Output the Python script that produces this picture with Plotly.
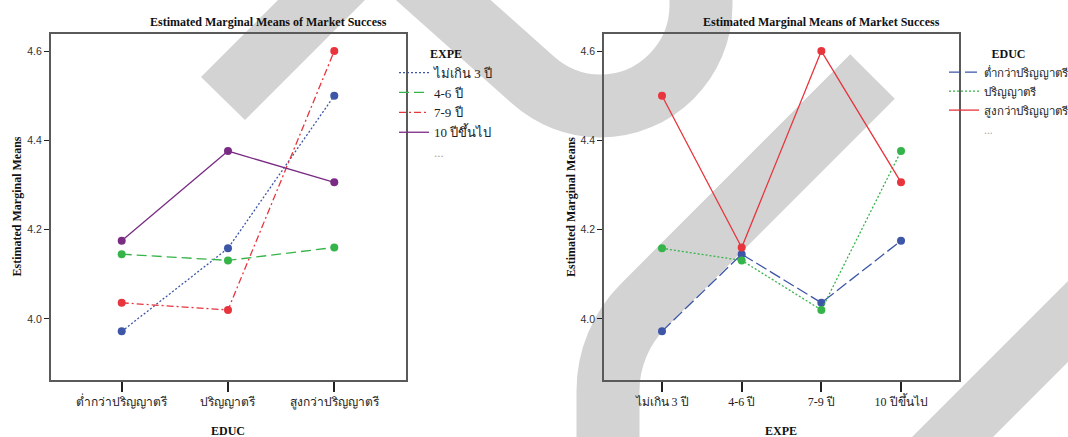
import plotly.graph_objects as go

W, H = 1068, 437

# ---------------- data ----------------
educ = ["ต่ำกว่าปริญญาตรี", "ปริญญาตรี", "สูงกว่าปริญญาตรี"]
expe = ["ไม่เกิน 3 ปี", "4-6 ปี", "7-9 ปี", "10 ปีขึ้นไป"]

# Estimated marginal means of Market Success, one list per EXPE group (ordered by EDUC)
mean_le3 = [3.972, 4.158, 4.500]
mean_4_6 = [4.145, 4.131, 4.160]
mean_7_9 = [4.036, 4.020, 4.600]
mean_10p = [4.175, 4.376, 4.306]
expe_means = [mean_le3, mean_4_6, mean_7_9, mean_10p]

y_ticks = [4.0, 4.2, 4.4, 4.6]

title_text = "Estimated Marginal Means of Market Success"
y_title = "Estimated Marginal Means"

# ---------------- styles ----------------
BLUE = "#3d56a8"
GREEN = "#35b449"
RED = "#e8343d"
PURPLE = "#7a2c84"
AXIS = "#5a5a5a"
WM = "#d3d3d3"
SERIF = "Liberation Serif, Times New Roman, serif"
SANS = "Liberation Sans, Arial, sans-serif"

left_styles = [(BLUE, "2px,2px"), (GREEN, "10px,5px"), (RED, "7px,3px,2px,3px"), (PURPLE, "solid")]
right_styles = [(BLUE, "12px,4px"), (GREEN, "2px,2px"), (RED, "solid")]


def px(x):
    return x / W


def py(y):
    return 1 - y / H


fig = go.Figure()


def add_series(xcats, vals, name, col, dash, xa, ya, leg):
    # data marks
    fig.add_trace(go.Scatter(
        x=xcats, y=vals, name=name, mode="lines+markers",
        line=dict(color=col, width=1.3, dash=dash),
        marker=dict(color=col, size=8),
        xaxis=xa, yaxis=ya, showlegend=False))
    # legend entry (line sample only)
    fig.add_trace(go.Scatter(
        x=[None], y=[None], name=name, mode="lines",
        line=dict(color=col, width=1.3, dash=dash),
        xaxis=xa, yaxis=ya, legend=leg, showlegend=True))


# left panel: lines per EXPE across EDUC
for name, vals, (col, dash) in zip(expe, expe_means, left_styles):
    add_series(educ, vals, name, col, dash, "x", "y", "legend")
fig.add_trace(go.Scatter(x=[None], y=[None], mode="lines", name="<span style='color:#aaa'>...</span>",
                         line=dict(color="rgba(0,0,0,0)"), xaxis="x", yaxis="y", legend="legend"))

# right panel: lines per EDUC across EXPE
for i, (name, (col, dash)) in enumerate(zip(educ, right_styles)):
    vals = [grp[i] for grp in expe_means]
    add_series(expe, vals, name, col, dash, "x2", "y2", "legend2")
fig.add_trace(go.Scatter(x=[None], y=[None], mode="lines", name="<span style='color:#aaa'>...</span>",
                         line=dict(color="rgba(0,0,0,0)"), xaxis="x2", yaxis="y2", legend="legend2"))

ydom = [py(380), py(33.7)]
common_x = dict(type="category", showline=True, mirror=True, linecolor=AXIS, linewidth=1.5,
                ticks="outside", ticklen=10, tickwidth=1.5, tickcolor="#222",
                showgrid=False, zeroline=False,
                tickfont=dict(family=SERIF, size=12, color="#222"))
common_y = dict(range=[3.863, 4.639], tickvals=y_ticks, tickformat=".1f",
                showline=True, mirror=True, linecolor=AXIS, linewidth=1.5,
                ticks="outside", ticklen=5, tickwidth=1, tickcolor="#222",
                showgrid=False, zeroline=False,
                tickfont=dict(family=SANS, size=10.5, color="#333"))

legend_common = dict(bgcolor="rgba(0,0,0,0)", xanchor="left", yanchor="top", tracegroupgap=0)
leg_title_font = dict(family=SERIF, size=12, color="#111", weight="bold")

fig.update_layout(
    width=W, height=H, template="none",
    margin=dict(l=0, r=0, t=0, b=0, autoexpand=False),
    paper_bgcolor="white", plot_bgcolor="rgba(0,0,0,0)",
    xaxis=dict(domain=[px(50.7), px(405.7)], range=[-0.668, 2.672], anchor="y", **common_x),
    yaxis=dict(domain=ydom, anchor="x", **common_y),
    xaxis2=dict(domain=[px(604), px(958.7)], range=[-0.728, 3.724], anchor="y2", **common_x),
    yaxis2=dict(domain=ydom, anchor="x2", **common_y),
    legend=dict(x=px(394), y=py(42), font=dict(family=SERIF, size=13, color="#222"),
                title=dict(text="EXPE", side="top center", font=leg_title_font), **legend_common),
    legend2=dict(x=px(944), y=py(42), font=dict(family=SERIF, size=11.5, color="#222"),
                 title=dict(text="EDUC", side="top center", font=leg_title_font), **legend_common),
    showlegend=True,
)

ann_font = dict(family=SERIF, size=12, color="#111", weight="bold")
anns = [
    dict(x=px(268), y=py(22), text=title_text),
    dict(x=px(821.7), y=py(22), text=title_text),
    dict(x=px(228), y=py(430.5), text="EDUC"),
    dict(x=px(781.3), y=py(430.5), text="EXPE"),
    dict(x=px(16.5), y=py(207), text=y_title, textangle=-90),
    dict(x=px(571), y=py(207), text=y_title, textangle=-90),
]
for a in anns:
    fig.add_annotation(xref="paper", yref="paper", showarrow=False, xanchor="center", yanchor="middle",
                       font=ann_font, **a)


# ---------------- watermark (decoration) ----------------
def path_from(cmds):
    out = []
    for c in cmds:
        if isinstance(c, str):
            out.append(c)
        else:
            out.append(f"{px(c[0]):.5f},{py(c[1]):.5f}")
    return " ".join(out)


poly_a = ["M", (201, 77), "L", (288, -10), "L", (375, -10), "L", (245, 120), "Z"]
poly_d = ["M", (900, 449), "L", (1080, 269), "L", (1080, 350), "L", (981, 449), "Z"]
stroke_b = ["M", (409.5, -30), "L", (533, 80), "C", (551.5, 96.4), (575.3, 106), (600, 106),
            "C", (655.8, 106), (701, 60.8), (701, 5), "L", (701, -30)]
stroke_c = ["M", (872.5, 76.5), "L", (643.2, 305.9), "C", (620.7, 328.4), (608, 358.9), (608, 390.7),
            "L", (608, 470)]

for p in (poly_a, poly_d):
    fig.add_shape(type="path", path=path_from(p), xref="paper", yref="paper", layer="below",
                  fillcolor=WM, line=dict(width=0))
for p in (stroke_b, stroke_c):
    fig.add_shape(type="path", path=path_from(p), xref="paper", yref="paper", layer="below",
                  fillcolor="rgba(0,0,0,0)", line=dict(color=WM, width=63))

fig.write_html("out.html")
